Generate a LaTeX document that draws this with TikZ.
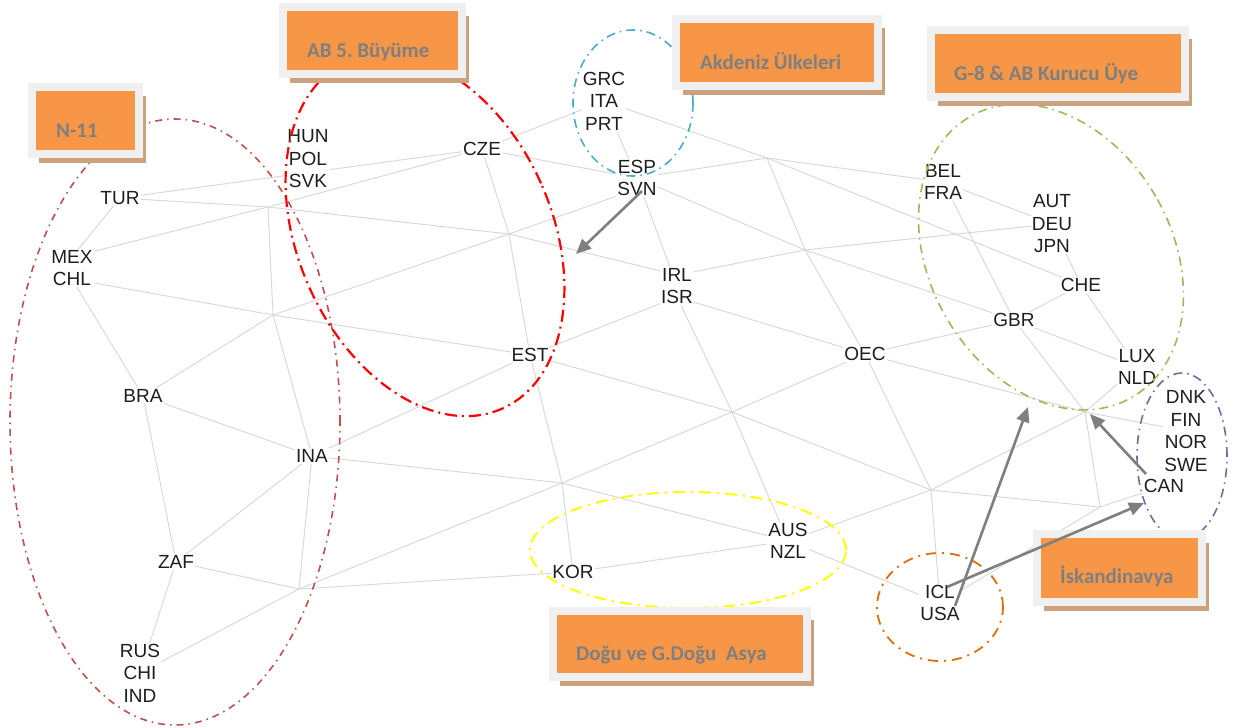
\documentclass[tikz,border=0pt]{standalone}
\usepackage{fontspec}
\setmainfont{Liberation Sans}
\newfontfamily\boxfont{Carlito}
\usetikzlibrary{arrows.meta,shadows}
\frenchspacing

\definecolor{meshgrey}{RGB}{215,215,215}
\definecolor{labelink}{RGB}{30,30,30}
\definecolor{boxorange}{RGB}{247,150,70}
\definecolor{framegrey}{RGB}{240,240,240}
\definecolor{shadowtan}{RGB}{204,162,126}
\definecolor{boxtext}{RGB}{127,127,127}
\definecolor{arrowgrey}{RGB}{127,127,127}
\definecolor{nelevenred}{RGB}{192,80,77}
\definecolor{abred}{RGB}{255,0,0}
\definecolor{medcyan}{RGB}{75,172,198}
\definecolor{geightgreen}{RGB}{155,187,89}
\definecolor{asiayellow}{RGB}{255,255,0}
\definecolor{iclorange}{RGB}{227,108,9}
\definecolor{scanpurple}{RGB}{128,100,162}

\pgfdeclarelayer{bg}
\pgfdeclarelayer{mesh}
\pgfsetlayers{bg,mesh,main}

\tikzset{
  cty/.style={fill=white, inner sep=1pt, align=center, text=labelink,
    font=\fontsize{19}{22.5}\selectfont},
  mesh/.style={draw=meshgrey, line width=0.9pt},
  obox/.style={draw=framegrey, line width=8pt, fill=boxorange, inner sep=0pt,
    outer sep=0pt, general shadow={fill=shadowtan, shadow xshift=7pt, shadow yshift=-9pt}},
  btext/.style={anchor=base west, inner sep=0pt, text=boxtext,
    font=\boxfont\bfseries\fontsize{21}{25}\selectfont},
  grp/.style={line width=#1},
  dd/.style={dash pattern=on 9pt off 5pt on 1.5pt off 5pt},
  garrow/.style={draw=arrowgrey, line width=2.6pt, -{Triangle[length=15pt,width=13pt]}}
}

\begin{document}
\begin{tikzpicture}[x=1pt,y=-1pt]
\begin{pgfonlayer}{bg}
  \fill[white] (0,0) rectangle (1235,728);
\end{pgfonlayer}
\useasboundingbox (0,0) rectangle (1235,728);

% country labels
\node[cty] (tur) at (120,198) {TUR};
\node[cty] (hps) at (308,159) {HUN\\POL\\SVK};
\node[cty] (mc) at (72,268) {MEX\\CHL};
\node[cty] (cze) at (482,149) {CZE};
\node[cty] (gip) at (604,101) {GRC\\ITA\\PRT};
\node[cty] (es) at (637,178) {ESP\\SVN};
\node[cty] (bf) at (943,182) {BEL\\FRA};
\node[cty] (adj) at (1052,224) {AUT\\DEU\\JPN};
\node[cty] (che) at (1081,285) {CHE};
\node[cty] (gbr) at (1014,320) {GBR};
\node[cty] (ln) at (1137,367) {LUX\\NLD};
\node[cty] (dfns) at (1186,431) {DNK\\FIN\\NOR\\SWE};
\node[cty] (can) at (1164,486) {CAN};
\node[cty] (ii) at (677,286) {IRL\\ISR};
\node[cty] (oec) at (865,354) {OEC};
\node[cty] (est) at (530,355) {EST};
\node[cty] (bra) at (143,396) {BRA};
\node[cty] (ina) at (312,456) {INA};
\node[cty] (zaf) at (176,562) {ZAF};
\node[cty] (an) at (788,541) {AUS\\NZL};
\node[cty] (kor) at (573,572) {KOR};
\node[cty] (iu) at (940,603) {ICL\\USA};
\node[cty] (rci) at (140,673) {RUS\\CHI\\IND};

% hidden junctions of the network
\coordinate (j1) at (268,207);
\coordinate (j2) at (509,234);
\coordinate (j3) at (273,315);
\coordinate (j4) at (299,589);
\coordinate (j5) at (562,483);
\coordinate (j6) at (732,412);
\coordinate (j7) at (931,490);
\coordinate (j8) at (1100,507);
\coordinate (j9) at (1085,412);
\coordinate (j10) at (767,158);
\coordinate (j11) at (805,250);

% network edges
\begin{pgfonlayer}{mesh}
\draw[mesh] (tur.center) -- (j1) -- (j2) -- ([yshift=11pt]ii.center);
\draw[mesh] (tur.center) -- (cze.center);
\draw[mesh] (tur.center) -- ([yshift=11pt]mc.center);
\draw[mesh] ([yshift=11pt]mc.center) -- (j1) -- (cze.center);
\draw[mesh] (j1) -- (j3) -- (ina.center);
\draw[mesh] ([yshift=-11pt]mc.center) -- (j3) -- (est.center);
\draw[mesh] ([yshift=-11pt]mc.center) -- (bra.center);
\draw[mesh] (bra.center) -- (j3) -- (j2) -- ([yshift=-11pt]es.center);
\draw[mesh] (cze.center) -- (j2) -- (est.center) -- (j5) -- (kor.center);
\draw[mesh] (bra.center) -- (ina.center);
\draw[mesh] (bra.center) -- (zaf.center);
\draw[mesh] (ina.center) -- (zaf.center);
\draw[mesh] (ina.center) -- (j4);
\draw[mesh] (ina.center) -- (est.center);
\draw[mesh] (ina.center) -- (j5) -- (an.center);
\draw[mesh] (zaf.center) -- (j4) -- (kor.center);
\draw[mesh] (j4) -- (rci.center);
\draw[mesh] (zaf.center) -- (rci.center);
\draw[mesh] (j4) -- (j5) -- (j6) -- (oec.center);
\draw[mesh] (est.center) -- (j6) -- (j7) -- (j8);
\draw[mesh] (est.center) -- ([yshift=-11pt]ii.center);
\draw[mesh] ([yshift=-11pt]ii.center) -- (j6) -- (an.center);
\draw[mesh] ([yshift=-11pt]ii.center) -- (oec.center);
\draw[mesh] ([yshift=11pt]ii.center) -- (j11) -- (adj.center);
\draw[mesh] (es.center) -- (ii.center);
\draw[mesh] (es.center) -- (j11) -- (gbr.center);
\draw[mesh] (es.center) -- (j10);
\draw[mesh] (cze.center) -- (es.center);
\draw[mesh] (cze.center) -- (gip.center);
\draw[mesh] (gip.center) -- (es.center);
\draw[mesh] (gip.center) -- (j10) -- (che.center);
\draw[mesh] (j10) -- (bf.center);
\draw[mesh] (j10) -- (j11) -- (oec.center) -- (j7);
\draw[mesh] (bf.center) -- (adj.center);
\draw[mesh] (bf.center) -- (gbr.center);
\draw[mesh] (adj.center) -- (che.center) -- (ln.center);
\draw[mesh] (che.center) -- (gbr.center) -- (ln.center);
\draw[mesh] (gbr.center) -- (j9);
\draw[mesh] (oec.center) -- (gbr.center);
\draw[mesh] (oec.center) -- (j9);
\draw[mesh] (ln.center) -- (j9) -- (dfns.center);
\draw[mesh] (j9) -- (j8) -- (can.center);
\draw[mesh] (j7) -- (j9);
\draw[mesh] (j7) -- (an.center);
\draw[mesh] (j7) -- (iu.center);
\draw[mesh] (j8) -- (iu.center);
\draw[mesh] (an.center) -- (iu.center);
\draw[mesh] (kor.center) -- (an.center);
\end{pgfonlayer}

% group outlines
\draw[nelevenred, grp=1.6pt, dash pattern=on 7pt off 5pt on 1.5pt off 5pt]
  (175,422) ellipse [x radius=165pt, y radius=303pt];
\draw[abred, grp=2.2pt, dash pattern=on 12pt off 5pt on 2pt off 5pt, rotate around={24:(425,235)}]
  (425,235) ellipse [x radius=127pt, y radius=190pt];
\draw[medcyan, grp=1.6pt, dd] (633,103) ellipse [x radius=60pt, y radius=73pt];
\draw[geightgreen, grp=1.6pt, dd, rotate around={30:(1051,257)}]
  (1051,257) ellipse [x radius=121pt, y radius=162pt];
\draw[asiayellow, grp=2pt, dash pattern=on 12pt off 6pt on 2pt off 6pt]
  (688,550) ellipse [x radius=158pt, y radius=58pt];
\draw[iclorange, grp=1.8pt, dash pattern=on 10pt off 6pt on 2pt off 6pt]
  (940,607) ellipse [x radius=63pt, y radius=54pt];
\draw[scanpurple, grp=1.6pt, dd] (1182,456) ellipse [x radius=45pt, y radius=83pt];

% group title boxes
\node[obox, minimum width=107pt, minimum height=67pt] (n11) at (85.5,120.5) {};
\node[btext] (n11t) at ([xshift=24pt,yshift=-16.5pt]n11.west) {N-11};
\node[obox, minimum width=179pt, minimum height=67pt] (ab5) at (372.5,40.5) {};
\node[btext] (ab5t) at ([xshift=24pt,yshift=-16.5pt]ab5.west) {AB 5. Büyüme};
\node[obox, minimum width=202pt, minimum height=67pt] (akd) at (777,52.5) {};
\node[btext] (akdt) at ([xshift=24pt,yshift=-16.5pt]akd.west) {Akdeniz Ülkeleri};
\node[obox, minimum width=254pt, minimum height=67pt] (g8) at (1058,63.5) {};
\node[btext] (g8t) at ([xshift=23pt,yshift=-16.5pt]g8.west) {G-8 \& AB Kurucu Üye};
\node[obox, minimum width=254pt, minimum height=66pt] (dogu) at (680,644) {};
\node[btext] (dogut) at ([xshift=23pt,yshift=-16.5pt]dogu.west) {Doğu ve G.Doğu~ Asya};
\node[obox, minimum width=165pt, minimum height=68pt] (isk) at (1119.5,568) {};
\node[btext] (iskt) at ([xshift=23pt,yshift=-15.5pt]isk.west) {İskandinavya};

% arrows between groups
\coordinate (a1s) at (642,191);
\coordinate (a1e) at (576,254);
\coordinate (a2s) at (955,606);
\coordinate (a2e) at (1028,407);
\coordinate (a3s) at (947,587);
\coordinate (a3e) at (1144,503);
\coordinate (a4s) at (1146,474);
\coordinate (a4e) at (1090,414);
\draw[garrow] (a1s) -- (a1e);
\draw[garrow] (a2s) -- (a2e);
\draw[garrow] (a3s) -- (a3e);
\draw[garrow] (a4s) -- (a4e);
\end{tikzpicture}
\end{document}
